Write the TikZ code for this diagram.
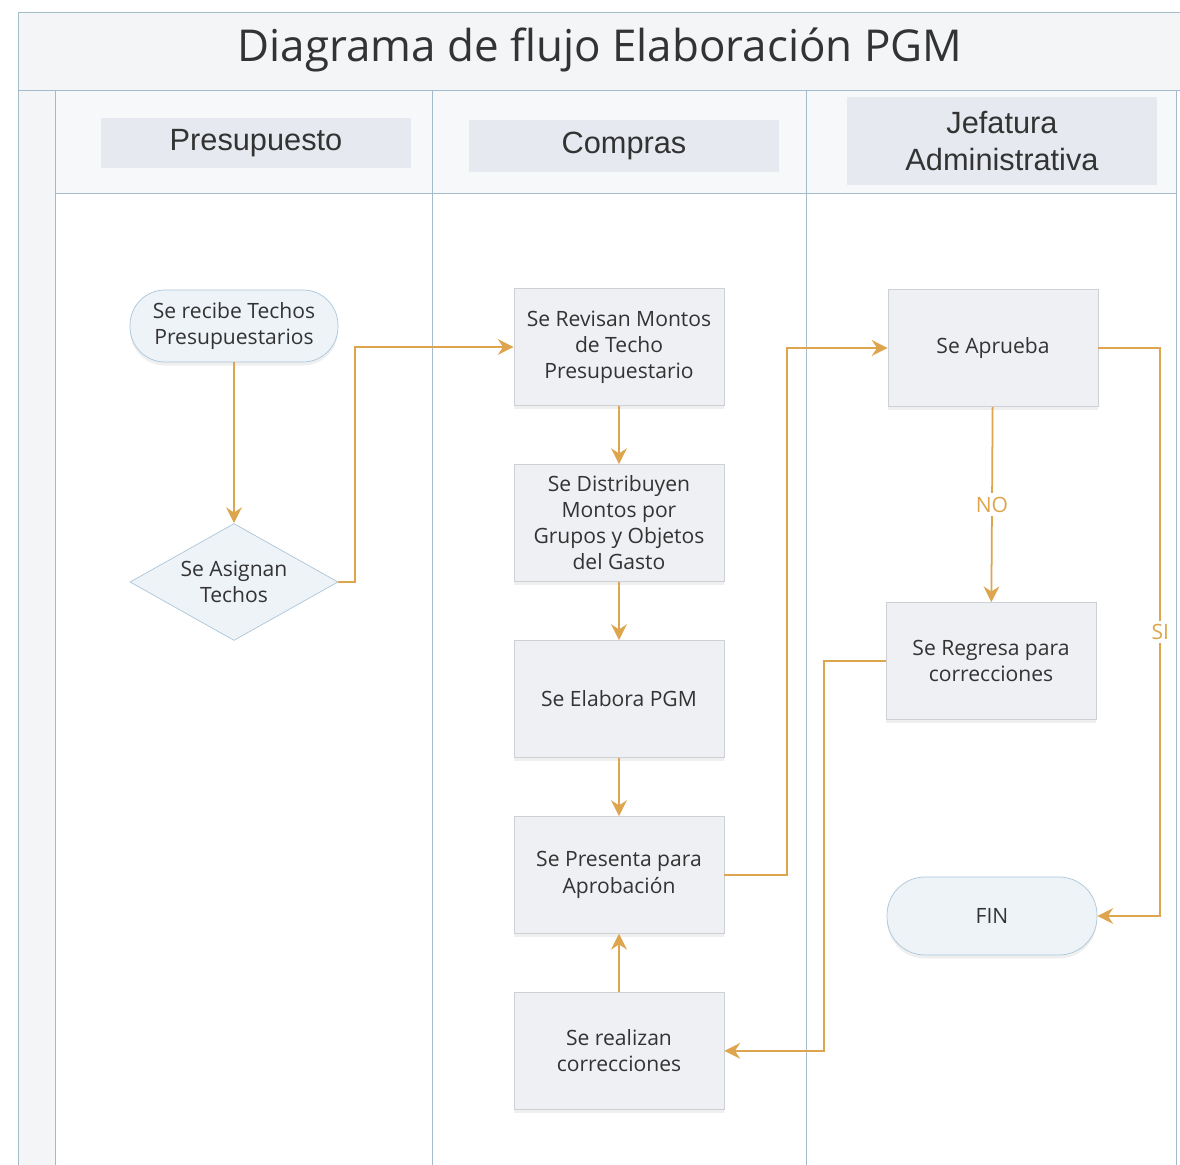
\documentclass[tikz,border=0pt]{standalone}
\usepackage{fontspec}
\setmainfont{Open Sans}
\newfontfamily\arialfont{Liberation Sans}
\usepackage{tikz}
\usepackage{xcolor}
\usetikzlibrary{shapes.geometric,arrows.meta,positioning,shadows}
\definecolor{flecha}{HTML}{DDA64E}
\definecolor{carril}{HTML}{A3BBCB}
\definecolor{caja}{HTML}{EEF0F3}
\definecolor{borde}{HTML}{CDD1D6}
\definecolor{termfill}{HTML}{EEF3F8}
\definecolor{termborde}{HTML}{AAC6DB}
\definecolor{cabecera}{HTML}{E6EAF0}
\definecolor{banda}{HTML}{F3F5F7}
\definecolor{texto}{HTML}{333333}
\tikzstyle{proceso} = [rectangle, draw=borde, fill=caja, text=texto, align=center, minimum width=4.2cm, minimum height=2.34cm, font=\fontsize{12}{14.8}\selectfont, drop shadow={shadow xshift=0pt, shadow yshift=-2pt, opacity=0.12}]
\tikzstyle{terminal} = [rectangle, rounded corners=0.7cm, draw=termborde, fill=termfill, text=texto, align=center, minimum width=4.16cm, minimum height=1.44cm, font=\fontsize{12}{14.8}\selectfont, drop shadow={shadow xshift=0pt, shadow yshift=-2pt, opacity=0.12}]
\tikzstyle{decision} = [diamond, aspect=1.78, draw=termborde, fill=termfill, text=texto, align=center, inner sep=0pt, minimum width=4.16cm, minimum height=2.34cm, font=\fontsize{12}{14.8}\selectfont]
\tikzstyle{cabeza} = [rectangle, fill=cabecera, text=texto, align=center, minimum width=6.2cm, minimum height=1cm, font=\arialfont\fontsize{17.5}{21}\selectfont]
\tikzstyle{linea} = [draw=flecha, line width=1pt, ->]
\tikzstyle{etiqueta} = [fill=white, text=flecha, inner sep=2pt, font=\fontsize{12}{14}\selectfont]

\begin{document}
\begin{tikzpicture}[x=0.02cm,y=-0.02cm,>={Stealth[length=9pt,width=9pt]},node distance=3.52cm]
  \useasboundingbox (0,0) rectangle (1180,1165);
  \fill[white] (0,0) rectangle (1180,1165);
  \fill[banda] (18,12) rectangle (1182,90);
  \fill[banda] (18,90) rectangle (55,1165);
  \fill[banda!70] (55,90) rectangle (1176,193);
  \draw[carril] (1182,12) -- (18,12) -- (18,1166);
  \draw[carril] (18,90) -- (1182,90);
  \foreach \x in {55,432,806,1176}
    \draw[carril] (\x,90) -- (\x,1166);
  \draw[carril] (55,193) -- (1176,193);
  \node[text=texto, font=\fontsize{25}{30}\selectfont] (titulo) at (600,50) {Diagrama de flujo Elaboración PGM};

  \node[cabeza] (h_pres) at (256,143) {Presupuesto};
  \node[cabeza, minimum height=1.04cm] (h_comp) at (624,146) {Compras};
  \node[cabeza, minimum height=1.76cm] (h_jef) at (1002,141) {Jefatura\\Administrativa};

  \node[terminal] (recibe) at (234,326) {Se recibe Techos\\Presupuestarios};
  \node[decision] (asignan) at (234,582) {Se Asignan\\Techos};

  \node[proceso] (revisan) at (619,347) {Se Revisan Montos\\de Techo\\Presupuestario};
  \node[proceso] (distribuyen) [below of=revisan] {Se Distribuyen\\Montos por\\Grupos y Objetos\\del Gasto};
  \node[proceso] (elabora) [below of=distribuyen] {Se Elabora PGM};
  \node[proceso] (presenta) [below of=elabora] {Se Presenta para\\Aprobación};
  \node[proceso] (realizan) [below of=presenta] {Se realizan\\correcciones};

  \node[proceso] (aprueba) at (993,348) {Se Aprueba};
  \node[proceso] (regresa) at (991,661) {Se Regresa para\\correcciones};
  \node[terminal, minimum width=4.2cm, minimum height=1.56cm, rounded corners=0.76cm] (fin) at (992,916) {FIN};

  \path[linea] (recibe) -- (asignan);
  \path[linea] (asignan.east) -- ++(17,0) |- (revisan.west);
  \path[linea] (revisan) -- (distribuyen);
  \path[linea] (distribuyen) -- (elabora);
  \path[linea] (elabora) -- (presenta);
  \path[linea] (presenta.east) -- ++(63,0) |- (aprueba.west);
  \path[linea] (aprueba) -- node[etiqueta] {NO} (regresa);
  \path[linea] (aprueba.east) -- ++(62,0) |- node[etiqueta, pos=0.25] {SI} (fin.east);
  \path[linea] (regresa.west) -- ++(-62,0) |- (realizan.east);
  \path[linea] (realizan) -- (presenta);
\end{tikzpicture}
\end{document}
